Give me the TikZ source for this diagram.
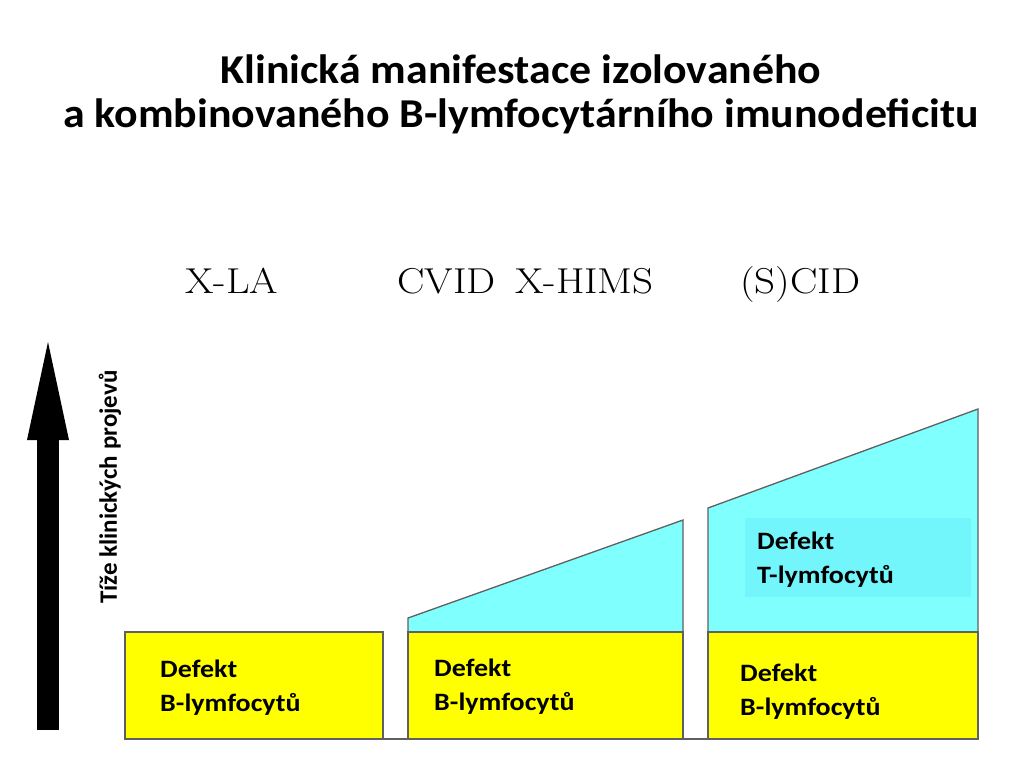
\documentclass[tikz,border=0pt]{standalone}
\usepackage{fontspec}
\setmainfont{Carlito}
\newfontfamily\syndromefont{Latin Modern Roman}
\usetikzlibrary{arrows.meta, positioning}
\definecolor{bfill}{RGB}{255,255,0}
\definecolor{tfill}{RGB}{128,255,255}
\definecolor{tinner}{RGB}{114,246,252}
\definecolor{edgegray}{RGB}{96,96,96}

\begin{document}
\begin{tikzpicture} [x = 1pt, y = -1pt,
    block/.style = {draw = edgegray, line width = 1.3pt},
    defekt/.style = {anchor = base west, align = left, inner sep = 0pt, xscale = 1.12,
        font = \bfseries\fontsize{25}{34}\selectfont},
    syndrome/.style = {anchor = base west, inner sep = 0pt, xscale = 1.14,
        font = \syndromefont\fontsize{36}{36}\selectfont}]

\useasboundingbox [fill = white] (0,0) rectangle (1024,768);

% title
\node (title) [align = center, xscale = 1.07, font = \bfseries\fontsize{41}{44}\selectfont, anchor = base]
    at (521,127) {Klinická manifestace izolovaného\\a kombinovaného B-lymfocytárního imunodeficitu};

% syndromes
\node (xla) [syndrome] at (185,293) {X-LA};
\node (cvid) [syndrome] at (397,293) {CVID};
\node (xhims) [syndrome] at (515,293) {X-HIMS};
\node (scid) [syndrome] at (740,293) {(S)CID};

% severity axis
\coordinate (axisbot) at (48,730);
\coordinate (axistop) at (48,342);
\draw [line width = 22pt, -{Triangle[width = 42pt, length = 98pt, line width = 0pt]}] (axisbot) -- (axistop);
\node (axislabel) [rotate = 90, font = \bfseries\fontsize{25}{25}\selectfont] at (110,487)
    {Tíže klinických projevů};

% blocks
\draw [block] (125,739) -- (978,739);
\draw [block, fill = bfill] (125,632) rectangle (383,739);

\draw [block, fill = tfill] (408,632) -- (408,618) -- (683,520) -- (683,632) -- cycle;
\draw [block, fill = bfill] (408,632) rectangle (683,739);

\draw [block, fill = tfill] (708,632) -- (708,508) -- (978,409) -- (978,632) -- cycle;
\fill [tinner] (745,518) rectangle (971,597);
\draw [block, fill = bfill] (708,632) rectangle (978,739);

% labels
\node (bdef1) [defekt] at (160,711) {Defekt\\B-lymfocytů};
\node (bdef2) [defekt] at (434,710) {Defekt\\B-lymfocytů};
\node (bdef3) [defekt] at (740,715) {Defekt\\B-lymfocytů};
\node (tdef3) [defekt] at (757,583) {Defekt\\T-lymfocytů};

\end{tikzpicture}
\end{document}
